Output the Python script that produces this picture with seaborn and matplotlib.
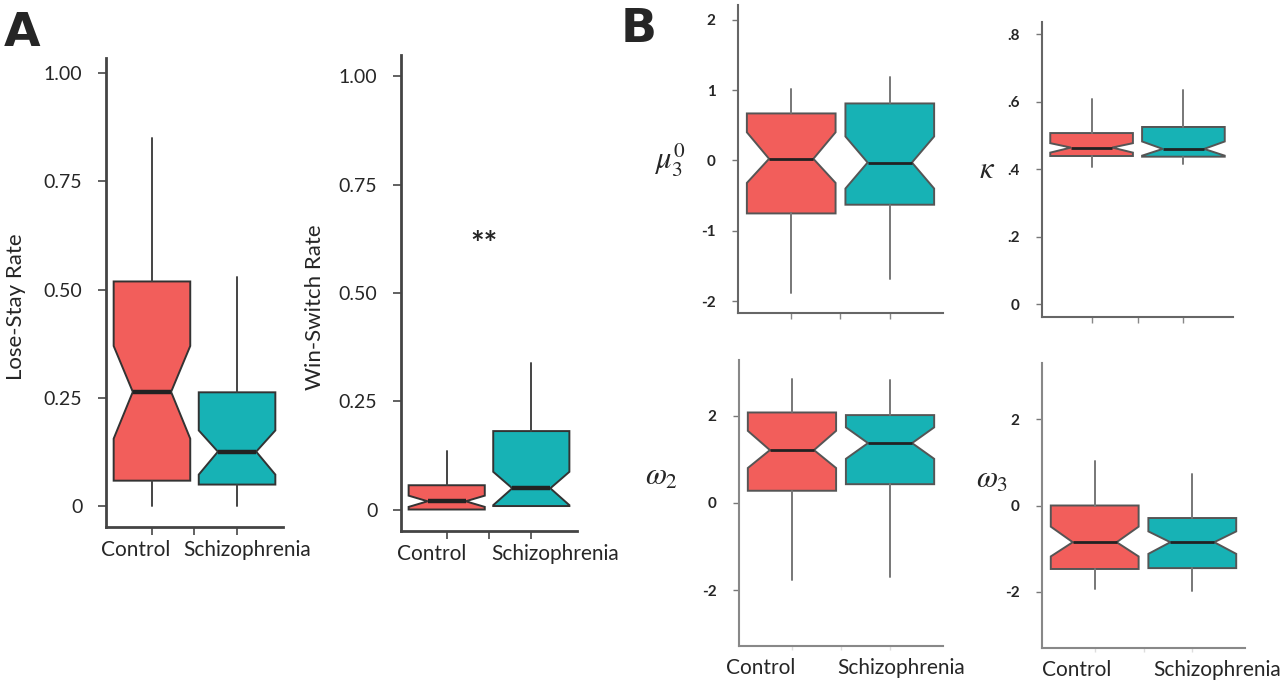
import matplotlib
matplotlib.use("Agg")
import matplotlib.pyplot as plt
import seaborn as sns

sns.set_theme(style="ticks")
plt.rcParams['font.family'] = ['Lato', 'DejaVu Sans']
plt.rcParams['mathtext.fontset'] = 'stix'

## Data: whisker low, q1, notch low, median, notch high, q3, whisker high
groups = ["Control", "Schizophrenia"]
colors = ["#F25E5B", "#17B2B5"]

lose_stay_control = [0.0, 0.059, 0.156, 0.264, 0.370, 0.519, 0.851]
lose_stay_schizo = [0.0, 0.050, 0.073, 0.126, 0.175, 0.263, 0.530]
win_switch_control = [0.0, 0.0, 0.006, 0.019, 0.032, 0.056, 0.134]
win_switch_schizo = [0.008, 0.008, 0.010, 0.049, 0.087, 0.181, 0.339]
mu3_control = [-1.88, -0.754, -0.32, 0.023, 0.40, 0.668, 1.01]
mu3_schizo = [-1.69, -0.63, -0.40, -0.03, 0.34, 0.81, 1.19]
kappa_control = [0.406, 0.439, 0.449, 0.464, 0.477, 0.507, 0.608]
kappa_schizo = [0.415, 0.437, 0.440, 0.460, 0.482, 0.525, 0.635]
omega2_control = [-1.76, 0.28, 0.80, 1.21, 1.65, 2.07, 2.84]
omega2_schizo = [-1.70, 0.43, 1.01, 1.37, 1.73, 2.01, 2.81]
omega3_control = [-1.94, -1.47, -1.18, -0.85, -0.49, 0.0, 1.03]
omega3_schizo = [-1.97, -1.45, -1.12, -0.85, -0.60, -0.29, 0.73]

W, H = 1281, 680
fig = plt.figure(figsize=(W / 100, H / 100), dpi=100)


def px_axes(l, t, r, b):
    return fig.add_axes([l / W, 1 - b / H, (r - l) / W, (b - t) / H])


def stats(vals, label):
    lo, q1, cilo, med, cihi, q3, hi = vals
    return dict(whislo=lo, q1=q1, cilo=cilo, med=med, cihi=cihi, q3=q3,
                whishi=hi, fliers=[], label=label)


def draw_box(ax, control, schizo, edge, med_lw, line_col):
    bp = ax.bxp([stats(control, groups[0]), stats(schizo, groups[1])],
                positions=[0, 1], widths=0.9, shownotches=True,
                showcaps=False, showfliers=False, patch_artist=True,
                boxprops=dict(edgecolor=edge, linewidth=1.4),
                medianprops=dict(color="#222222", linewidth=med_lw),
                whiskerprops=dict(color=line_col, linewidth=1.4))
    for patch, c in zip(bp["boxes"], colors):
        patch.set_facecolor(c)
    ax.set_xlim(-0.54, 1.54)
    return bp


def group_labels(ax, where):
    # tick marks at the categories, the names sit a little off them (as in the figure)
    ax.set_xticks([0, 0.5, 1])
    ax.set_xticklabels(["", "", ""])
    ax.set_xticks(where, minor=True)
    ax.set_xticklabels(groups, minor=True, fontsize=15)
    ax.tick_params(axis="x", which="minor", length=0, pad=9)


## Panel A
ax1 = px_axes(106, 58, 283, 527)
draw_box(ax1, lose_stay_control, lose_stay_schizo, "#333333", 3.2, "#444444")
ax1.set_ylim(-0.048, 1.035)
ax1.set_ylabel("Lose-Stay Rate", fontsize=16)
ax1.yaxis.set_label_coords(-0.45, 0.47)
group_labels(ax1, [-0.19, 1.12])

ax2 = px_axes(401, 55, 577, 531)
draw_box(ax2, win_switch_control, win_switch_schizo, "#333333", 3.2, "#444444")
ax2.set_ylim(-0.0496, 1.049)
ax2.set_ylabel("Win-Switch Rate", fontsize=16)
ax2.yaxis.set_label_coords(-0.43, 0.47)
ax2.text(0.435, 0.61, "**", fontsize=23, fontweight="bold", ha="center", va="center")
group_labels(ax2, [-0.18, 1.28])

for ax in (ax1, ax2):
    sns.despine(ax=ax)
    ax.set_yticks([0, 0.25, 0.5, 0.75, 1.0])
    ax.set_yticklabels(["0", "0.25", "0.50", "0.75", "1.00"])
    ax.tick_params(axis="y", length=6, width=1.3, color="#555555", pad=11, labelsize=14)
    ax.tick_params(axis="x", which="major", length=6, width=1.3, color="#555555")
    for s in ("left", "bottom"):
        ax.spines[s].set_color("#444444")
        ax.spines[s].set_linewidth(2)

## Panel B
bx1 = px_axes(738, 5, 943, 313)
draw_box(bx1, mu3_control, mu3_schizo, "#555555", 2, "#777777")
bx1.set_ylim(-2.17, 2.21)
bx1.set_yticks([-2, -1, 0, 1, 2])
bx1.set_yticklabels(["-2", "-1", "0", "1", "2"])

bx2 = px_axes(1042, 22, 1233, 317)
draw_box(bx2, kappa_control, kappa_schizo, "#555555", 2, "#777777")
bx2.set_ylim(-0.038, 0.836)
bx2.set_yticks([0, 0.2, 0.4, 0.6, 0.8])
bx2.set_yticklabels(["0", ".2", ".4", ".6", ".8"])

bx3 = px_axes(739, 360, 943, 646)
draw_box(bx3, omega2_control, omega2_schizo, "#555555", 2, "#777777")
bx3.set_ylim(-3.27, 3.27)
bx3.set_yticks([-2, 0, 2])
bx3.set_yticklabels(["-2", "0", "2"])

bx4 = px_axes(1042, 363, 1245, 648)
draw_box(bx4, omega3_control, omega3_schizo, "#555555", 2, "#777777")
bx4.set_ylim(-3.3, 3.3)
bx4.set_yticks([-2, 0, 2])
bx4.set_yticklabels(["-2", "0", "2"])

for ax in (bx1, bx2, bx3, bx4):
    sns.despine(ax=ax)
    ax.tick_params(axis="y", length=4, width=1, color="#777777", pad=12, labelsize=11)
    for lab in ax.get_yticklabels():
        lab.set_fontweight("bold")
    for s in ("left", "bottom"):
        ax.spines[s].set_color("#666666")
        ax.spines[s].set_linewidth(1.5)

for ax in (bx1, bx2):
    ax.set_xticks([0, 0.5, 1])
    ax.set_xticklabels(["", "", ""])
    ax.tick_params(axis="x", length=4, width=1, color="#888888")

group_labels(bx3, [-0.32, 1.11])
group_labels(bx4, [-0.18, 1.25])
for ax in (bx3, bx4):
    ax.tick_params(axis="x", which="major", length=3, width=1, color="#dddddd")
    ax.spines["bottom"].set_color("#888888")
    ax.spines["left"].set_color("#888888")

## B parameter labels
fig.text(670 / W, 1 - 160 / H, r"$\mu_3^0$", fontsize=22, ha="center", va="center")
fig.text(987 / W, 1 - 169 / H, r"$\kappa$", fontsize=22, ha="center", va="center")
fig.text(662 / W, 1 - 477 / H, r"$\omega_2$", fontsize=22, ha="center", va="center")
fig.text(992 / W, 1 - 480 / H, r"$\omega_3$", fontsize=22, ha="center", va="center")

## Panel letters
fig.text(4 / W, 1 - 33 / H, "A", fontsize=34, fontweight="black", va="center", ha="left",
         family=["DejaVu Sans"])
fig.text(621 / W, 1 - 30 / H, "B", fontsize=34, fontweight="black", va="center", ha="left",
         family=["DejaVu Sans"])

fig.savefig("out.png", dpi=100)
